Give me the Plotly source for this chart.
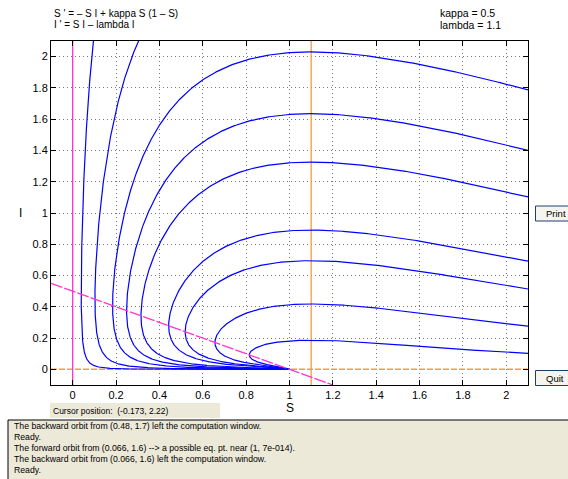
import numpy as np
import plotly.graph_objects as go

# System parameters
kappa = 0.5
lam = 1.1

# Starting points of the plotted solution curves (S, I)
S_start = [0.066, 0.30, 1.1, 1.1, 1.1, 1.1, 1.1, 1.1, 1.1]
I_start = [1.6, 2.09, 2.03, 1.635, 1.326, 0.891, 0.695, 0.418, 0.187]

# Display window and tick labels
S_range = [-0.1, 2.1]
I_range = [-0.1, 2.1]
x_tick_vals = [0, 0.2, 0.4, 0.6, 0.8, 1, 1.2, 1.4, 1.6, 1.8, 2]
x_tick_text = ["0", "0.2", "0.4", "0.6", "0.8", "1", "1.2", "1.4", "1.6", "1.8", "2"]
y_tick_vals = [0, 0.2, 0.4, 0.6, 0.8, 1, 1.2, 1.4, 1.6, 1.8, 2]
y_tick_text = ["0", "0.2", "0.4", "0.6", "0.8", "1", "1.2", "1.4", "1.6", "1.8", "2"]

eq_lines = ["S ' = \u2013 S I + kappa S (1 \u2013 S)", "I ' = S I \u2013 lambda I"]
param_lines = ["kappa = 0.5", "lambda = 1.1"]
cursor_text = "Cursor position:  (-0.173, 2.22)"
messages = [
    "The backward orbit from (0.48, 1.7) left the computation window.",
    "Ready.",
    "The forward orbit from (0.066, 1.6) --> a possible eq. pt. near (1, 7e-014).",
    "The backward orbit from (0.066, 1.6) left the computation window.",
    "Ready.",
]

BLUE = "#0000FF"
MAGENTA = "#FF33CC"
ORANGE = "#F99A3C"
PANEL = "#ECE9D8"
FONT = "Liberation Sans"


def field(p):
    s, i = p
    return np.array([-s * i + kappa * s * (1 - s), s * i - lam * i])


def orbit(s0, i0, direction):
    p = np.array([s0, i0], dtype=float)
    pts = [p.copy()]
    lo_s, hi_s = S_range[0] - 0.05, S_range[1] + 0.05
    lo_i, hi_i = I_range[0] - 0.05, I_range[1] + 0.05
    for _ in range(60000):
        v = field(p)
        speed = np.hypot(*v)
        h = direction * min(0.02, 0.003 / max(speed, 1e-12))
        k1 = field(p)
        k2 = field(p + 0.5 * h * k1)
        k3 = field(p + 0.5 * h * k2)
        k4 = field(p + h * k3)
        p = p + h / 6 * (k1 + 2 * k2 + 2 * k3 + k4)
        pts.append(p.copy())
        if not (lo_s < p[0] < hi_s and lo_i < p[1] < hi_i):
            break
        if direction > 0 and np.hypot(p[0] - 1, p[1]) < 2e-4:
            break
    return np.array(pts)


fig = go.Figure()

# I-nullclines: I = 0 and S = lambda
fig.add_trace(go.Scatter(x=S_range, y=[0, 0], mode="lines",
                         line=dict(color=ORANGE, width=1.5, dash="6px,2px"),
                         hoverinfo="skip", showlegend=False))
fig.add_trace(go.Scatter(x=[lam, lam], y=I_range, mode="lines",
                         line=dict(color=ORANGE, width=1.3),
                         hoverinfo="skip", showlegend=False))

# Solution curves
for s0, i0 in zip(S_start, I_start):
    back = orbit(s0, i0, -1)[::-1]
    fwd = orbit(s0, i0, 1)
    path = np.vstack([back, fwd[1:]])
    fig.add_trace(go.Scatter(x=path[:, 0], y=path[:, 1], mode="lines",
                             line=dict(color=BLUE, width=1.2),
                             hoverinfo="skip", showlegend=False))

# S-nullclines: S = 0 and I = kappa (1 - S)
fig.add_trace(go.Scatter(x=[0, 0], y=I_range, mode="lines",
                         line=dict(color=MAGENTA, width=1.3),
                         hoverinfo="skip", showlegend=False))
s_line = np.array([S_range[0], 1 - I_range[0] / kappa])
fig.add_trace(go.Scatter(x=s_line, y=kappa * (1 - s_line), mode="lines",
                         line=dict(color=MAGENTA, width=1.2, dash="12px,2px"),
                         hoverinfo="skip", showlegend=False))

# Pixel geometry of the plotting area
W, H = 568, 479
L, R, T, B = 51, 528, 41, 385


def px(x):
    return (x - L) / (R - L)


def py(y):
    return (B - y) / (B - T)


shapes = [
    # cursor position strip
    dict(type="rect", xref="paper", yref="paper", x0=px(50), x1=px(220),
         y0=py(418), y1=py(403), fillcolor=PANEL, line=dict(width=0), layer="below"),
    # message panel
    dict(type="rect", xref="paper", yref="paper", x0=px(8), x1=px(572),
         y0=py(482), y1=py(420), fillcolor=PANEL, line=dict(color="black", width=1)),
    # buttons
    dict(type="rect", xref="paper", yref="paper", x0=px(535.5), x1=px(575),
         y0=py(221), y1=py(206), fillcolor="#F5F4EF", line=dict(color="#1C3F6E", width=1)),
    dict(type="rect", xref="paper", yref="paper", x0=px(535.5), x1=px(575),
         y0=py(385.5), y1=py(370.5), fillcolor="#F5F4EF", line=dict(color="#1C3F6E", width=1)),
]

annotations = []


def text(x, y, s, size=11, anchor="left"):
    annotations.append(dict(x=px(x), y=py(y), xref="paper", yref="paper", text=s,
                            showarrow=False, xanchor=anchor, yanchor="middle",
                            font=dict(family=FONT, size=size, color="black")))


text(52, 13, eq_lines[0], size=10)
text(52, 25, eq_lines[1], size=10)
text(438, 13, param_lines[0], size=10.5)
text(438, 25, param_lines[1], size=10.5)
text(290, 408, "S", size=12, anchor="center")
text(20, 213, "I", size=12, anchor="center")
text(556, 213.5, "Print", size=9.5, anchor="center")
text(555, 378, "Quit", size=9.5, anchor="center")
text(51, 411, cursor_text, size=8.5)
for k, m in enumerate(messages):
    text(12, 426 + 11 * k, m, size=8.7)

axis_common = dict(
    showline=True, linecolor="black", linewidth=1, mirror="ticks",
    ticks="inside", ticklen=5, tickcolor="black", tickwidth=1,
    showgrid=True, gridcolor="#777777", griddash="1px,3px", gridwidth=1,
    zeroline=False, tickfont=dict(family=FONT, size=11, color="black"),
    fixedrange=True,
)

fig.update_layout(
    width=W, height=H,
    margin=dict(l=L, r=W - R, t=T, b=H - B, pad=0),
    paper_bgcolor="white", plot_bgcolor="white",
    xaxis=dict(range=S_range, tickvals=x_tick_vals, ticktext=x_tick_text, **axis_common),
    yaxis=dict(range=I_range, tickvals=y_tick_vals, ticktext=y_tick_text, **axis_common),
    shapes=shapes, annotations=annotations,
    showlegend=False,
)

fig.write_html("out.html", config={"displayModeBar": False})
